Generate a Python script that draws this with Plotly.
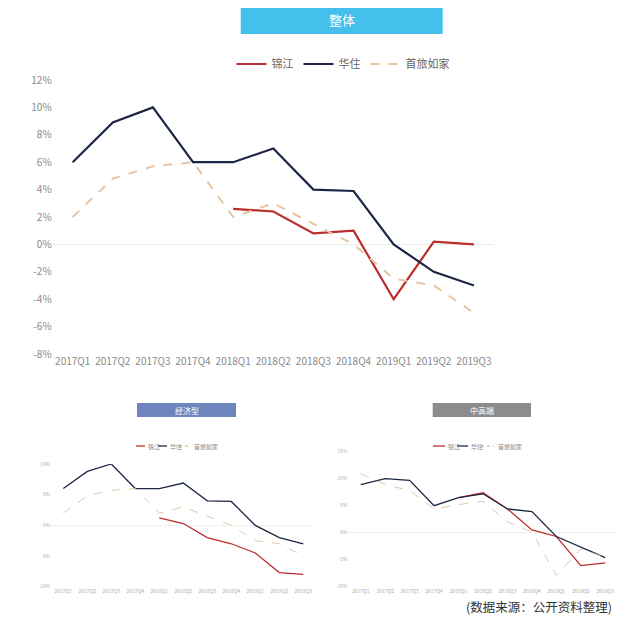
import plotly.graph_objects as go

quarters = ["2017Q1", "2017Q2", "2017Q3", "2017Q4", "2018Q1", "2018Q2",
            "2018Q3", "2018Q4", "2019Q1", "2019Q2", "2019Q3"]
series_names = ["锦江", "华住", "首旅如家"]

# 整体
total_jinjiang = [None, None, None, None, 2.6, 2.4, 0.8, 1.0, -4.0, 0.2, 0.0]
total_huazhu = [6.0, 8.9, 10.0, 6.0, 6.0, 7.0, 4.0, 3.9, 0.0, -2.0, -3.0]
total_homeinns = [2.0, 4.8, 5.7, 6.0, 2.0, 3.0, 1.5, 0.0, -2.5, -3.0, -5.0]

# 经济型
eco_jinjiang = [None, None, None, None, 1.2, 0.3, -2.0, -3.0, -4.5, -7.7, -8.0]
eco_huazhu = [6.0, 8.8, 10.0, 6.0, 6.0, 6.9, 4.0, 3.9, 0.0, -2.0, -3.0]
eco_homeinns = [2.0, 4.8, 5.7, 6.0, 2.0, 3.0, 1.5, 0.0, -2.5, -3.0, -5.0]

# 中高端
mid_jinjiang = [None, None, None, None, 6.5, 7.4, 4.4, 0.5, -0.7, -6.1, -5.6]
mid_huazhu = [8.9, 10.0, 9.7, 5.0, 6.5, 7.2, 4.4, 3.9, -0.7, -2.7, -4.6]
mid_homeinns = [10.9, 8.9, 7.8, 4.4, 5.2, 5.8, 2.0, 0.1, -7.9, -3.0, -4.6]

main_ticks = [12, 10, 8, 6, 4, 2, 0, -2, -4, -6, -8]
eco_ticks = [10, 5, 0, -5, -10]
mid_ticks = [15, 10, 5, 0, -5, -10]

panel_titles = ["整体", "经济型", "中高端"]
source_note = "(数据来源：公开资料整理)"

RED = "#BC2D2D"
NAVY = "#1C2745"
TAN = "#E6C5A6"
FONT = "Noto Sans CJK SC"

# the page body keeps an 8px margin, so the figure is drawn 8px in from the corner
OFF = 8
W, H = 640 - 2 * OFF, 626 - 2 * OFF

def px(x):
    return (x - OFF) / W

def py(y):
    return 1 - (y - OFF) / H

fig = go.Figure()
colors = [RED, NAVY, TAN]

panels = [
    dict(data=[total_jinjiang, total_huazhu, total_homeinns], xa="x", ya="y",
         width=2.2, dash_w=2.0, show=True),
    dict(data=[eco_jinjiang, eco_huazhu, eco_homeinns], xa="x2", ya="y2",
         width=1.3, dash_w=1.0, show=False),
    dict(data=[mid_jinjiang, mid_huazhu, mid_homeinns], xa="x3", ya="y3",
         width=1.3, dash_w=1.0, show=False),
]
for p in panels:
    for name, vals, col in zip(series_names, p["data"], colors):
        is_dash = col == TAN
        fig.add_trace(go.Scatter(
            x=quarters, y=vals, name=name, mode="lines",
            line=dict(color=col, width=p["dash_w"] if is_dash else p["width"],
                      dash="dash" if is_dash else "solid"),
            xaxis=p["xa"], yaxis=p["ya"], showlegend=p["show"],
            connectgaps=False, hoverinfo="skip"))

def yfmt(ticks):
    return [f"{t}%" for t in ticks]

axis_common_x = dict(type="category", showgrid=False, showline=False, zeroline=False,
                     ticks="", range=[-0.5, 10.5], fixedrange=True, automargin=False,
                     tickangle=0)
axis_common_y = dict(showgrid=False, showline=False, zeroline=True, ticks="",
                     fixedrange=True, automargin=False)

fig.update_layout(
    width=W, height=H, margin=dict(l=0, r=0, t=0, b=0, autoexpand=False),
    paper_bgcolor="white", plot_bgcolor="white",
    font=dict(family=FONT, color="#888888"),
    xaxis=dict(**axis_common_x, domain=[px(52.6), px(494)], anchor="y",
               tickfont=dict(size=10, color="#8a8a8a")),
    yaxis=dict(**axis_common_y, domain=[py(354), py(80)], anchor="x",
               range=[-8, 12], tickvals=main_ticks, ticktext=yfmt(main_ticks),
               zerolinecolor="#ebebeb", zerolinewidth=1,
               tickfont=dict(size=10, color="#8a8a8a")),
    xaxis2=dict(**axis_common_x, domain=[px(51.3), px(315.3)], anchor="y2",
                tickfont=dict(size=5, color="#aaaaaa")),
    yaxis2=dict(**axis_common_y, domain=[py(586.7), py(464)], anchor="x2",
                range=[-10, 10], tickvals=eco_ticks, ticktext=yfmt(eco_ticks),
                zerolinecolor="#f0f0f0", zerolinewidth=1,
                tickfont=dict(size=5, color="#aaaaaa")),
    xaxis3=dict(**axis_common_x, domain=[px(348.5), px(617.5)], anchor="y3",
                tickfont=dict(size=5, color="#aaaaaa")),
    yaxis3=dict(**axis_common_y, domain=[py(586.7), py(451.7)], anchor="x3",
                range=[-10, 15], tickvals=mid_ticks, ticktext=yfmt(mid_ticks),
                zerolinecolor="#f0f0f0", zerolinewidth=1,
                tickfont=dict(size=5, color="#aaaaaa")),
    legend=dict(orientation="h", x=px(343), y=py(64), xanchor="center", yanchor="middle",
                font=dict(size=11, color="#666666", family=FONT),
                bgcolor="rgba(0,0,0,0)", itemwidth=30),
    showlegend=True,
)

# title boxes
boxes = [
    (panel_titles[0], 240.7, 442.7, 6, 34, "#45BFEC", 13),
    (panel_titles[1], 137, 236, 403, 417, "#6E85BE", 8),
    (panel_titles[2], 432.7, 531, 403, 417, "#8C8C8C", 8),
]
for text, x0, x1, y0, y1, col, fs in boxes:
    fig.add_shape(type="rect", xref="paper", yref="paper",
                  x0=px(x0), x1=px(x1), y0=py(y1), y1=min(1.0, py(y0)),
                  fillcolor=col, line=dict(width=0), layer="below")
    fig.add_annotation(text=text, xref="paper", yref="paper",
                       x=px((x0 + x1) / 2), y=py((y0 + y1) / 2),
                       showarrow=False, font=dict(size=fs, color="white", family=FONT),
                       xanchor="center", yanchor="middle")

# compact legends for the two small panels (line key + label)
small_legends = [
    ([(136, 145, 146), (158, 167, 168), (179, 190, 192)], 446),
    ([(433, 445, 446), (457, 468, 469), (481, 494, 496)], 446),
]
for entries, ly in small_legends:
    for (lx0, lx1, tx), name, col in zip(entries, series_names, colors):
        fig.add_shape(type="line", xref="paper", yref="paper",
                      x0=px(lx0), x1=px(lx1), y0=py(ly), y1=py(ly),
                      line=dict(color=col, width=1.3, dash="dot" if col == TAN else "solid"))
        fig.add_annotation(text=name, xref="paper", yref="paper", x=px(tx), y=py(ly),
                           xanchor="left", yanchor="middle", showarrow=False,
                           font=dict(size=6, color="#888888", family=FONT))

fig.add_annotation(text=source_note, xref="paper", yref="paper",
                   x=px(614), y=0.0, xanchor="right", yanchor="bottom",
                   showarrow=False, font=dict(size=12.5, color="#333333", family=FONT))

fig.write_html("out.html")
